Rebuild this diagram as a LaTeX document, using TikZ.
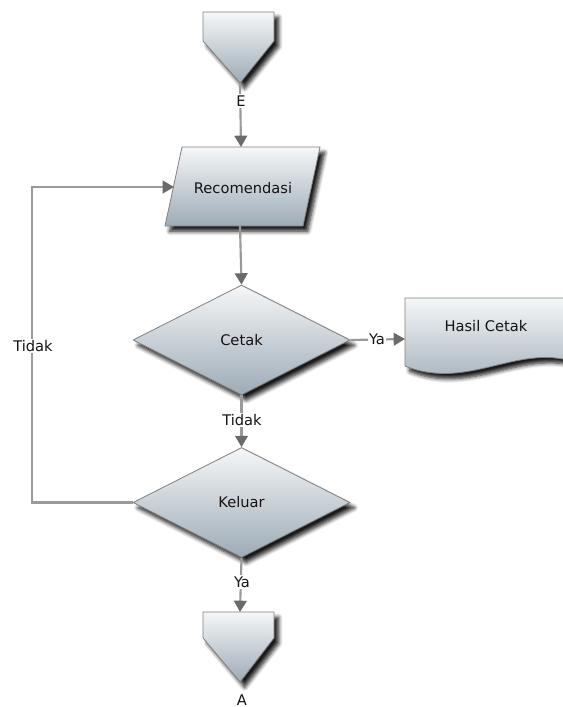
\documentclass[tikz,border=0pt]{standalone}
\usepackage{fontspec}
\setmainfont{DejaVu Sans}
\usetikzlibrary{shapes.geometric,arrows.meta,shadows.blur}
\definecolor{fillTop}{HTML}{F5F7F8}
\definecolor{fillBot}{HTML}{9DABB6}
\definecolor{edge}{HTML}{808080}
\definecolor{wire}{HTML}{9A9A9A}
\definecolor{tip}{HTML}{6A6A6A}
\definecolor{ink}{HTML}{141414}
\tikzset{
  flowshape/.style={draw=edge, line width=0.6pt, top color=fillTop, bottom color=fillBot,
    blur shadow={shadow xshift=3.5pt, shadow yshift=-4pt, shadow blur steps=6,
      shadow blur radius=3pt, shadow opacity=90}},
  decision/.style={flowshape, diamond, inner sep=0pt,
    minimum width={217*0.75pt}, minimum height={110*0.75pt}},
  lbl/.style={font=\fontsize{11pt}{13pt}\selectfont, text=ink, inner sep=1pt},
  onwire/.style={lbl, fill=white},
  flow/.style={draw=wire, line width=1.6pt,
    -{Triangle[length=8.5pt, width=9.5pt, fill=tip, color=tip]}},
}
\begin{document}
\begin{tikzpicture}[x=0.75pt, y=-0.75pt]
\useasboundingbox (0,0) rectangle (563,707);
\clip (0,0) rectangle (563,707);

% entry off-page connector
\path[flowshape] (203,12) -- (274,12) -- (274,41) -- (240,83) -- (203,41) -- cycle;
\coordinate (eTip) at (240,83);

% input/output parallelogram
\path[flowshape] (182,147) -- (320,147) -- (303,226) -- (165,226) -- cycle;
\node[lbl] (rec) at (243,188) {Recomendasi};
\coordinate (recTop) at (241,147);
\coordinate (recBot) at (240,226);
\coordinate (recL) at (174,187);

% decisions
\node[decision] (cetak) at (241.5,340) {};
\node[lbl] at (cetak) {Cetak};
\node[decision] (keluar) at (241.5,502.5) {};
\node[lbl] at (keluar) {Keluar};

% printed document
\path[flowshape] (405,298) -- (580,298) -- (580,364)
  .. controls (520,340) and (470,392) .. (405,366) -- cycle;
\node[lbl] (hasil) at (486,326) {Hasil Cetak};
\coordinate (docL) at (405,339);

% exit off-page connector
\path[flowshape] (203,612) -- (274,612) -- (274,638) -- (240,682) -- (203,638) -- cycle;
\coordinate (aTop) at (240,612);
\node[lbl] (aLbl) at (242,700) {A};

% connectors
\draw[flow] (eTip) -- (recTop);
\node[onwire] at (241,101) {E};
\draw[flow] (recBot) -- (cetak.north);
\draw[flow] (cetak.east) -- (docL);
\node[onwire] at (377,339) {Ya};
\draw[flow] (cetak.south) -- (keluar.north);
\node[onwire] at (242,420) {Tidak};
\coordinate (loopB) at (32,502.5);
\draw[flow] (keluar.west) -- (loopB) |- (recL);
\node[onwire] at (33,346) {Tidak};
\draw[flow] (keluar.south) -- (aTop);
\node[onwire] at (242,582) {Ya};
\end{tikzpicture}
\end{document}
